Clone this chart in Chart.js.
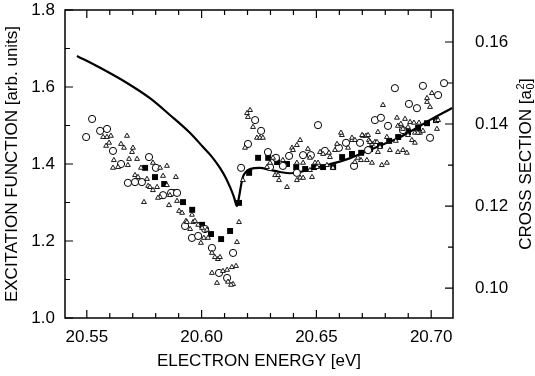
<!DOCTYPE html>
<html>
<head>
<meta charset="utf-8">
<script src="https://cdn.jsdelivr.net/npm/chart.js@4"></script>
<style>
  html, body { margin: 0; padding: 0; background: #fff; }
  .plot { width: 535px; height: 376px; }
</style>
</head>
<body>
<div class="plot"><canvas id="excitation" width="535" height="376"></canvas></div>
<script>
// electron energy [eV], excitation function [arb. units]
const openCircles = [
  [20.5497, 1.470], [20.5523, 1.517], [20.5558, 1.486], [20.5588, 1.491], [20.5614, 1.434],
  [20.5649, 1.400], [20.5679, 1.351], [20.5710, 1.353], [20.5740, 1.353], [20.5771, 1.418],
  [20.5801, 1.390], [20.5832, 1.319], [20.5867, 1.325], [20.5893, 1.325], [20.5928, 1.239],
  [20.5958, 1.208], [20.5985, 1.213], [20.6015, 1.231], [20.6045, 1.182], [20.6076, 1.117],
  [20.6111, 1.104], [20.6137, 1.169], [20.6172, 1.390], [20.6202, 1.452], [20.6233, 1.514],
  [20.6259, 1.486], [20.6289, 1.431], [20.6298, 1.392], [20.6324, 1.416], [20.6354, 1.395],
  [20.6381, 1.421], [20.6415, 1.377], [20.6442, 1.423], [20.6476, 1.423], [20.6507, 1.501],
  [20.6537, 1.434], [20.6598, 1.442], [20.6629, 1.455], [20.6664, 1.395], [20.6690, 1.455],
  [20.6725, 1.436], [20.6755, 1.514], [20.6781, 1.520], [20.6812, 1.499], [20.6842, 1.597],
  [20.6877, 1.488], [20.6903, 1.556], [20.6938, 1.545], [20.6964, 1.603], [20.6995, 1.468],
  [20.7030, 1.579], [20.7056, 1.610],
];

const filledSquares = [
  [20.5754, 1.390], [20.5797, 1.366], [20.5837, 1.348], [20.5880, 1.327], [20.5919, 1.301],
  [20.5959, 1.281], [20.6002, 1.242], [20.6041, 1.218], [20.6085, 1.205], [20.6124, 1.226],
  [20.6163, 1.299], [20.6207, 1.377], [20.6246, 1.416], [20.6290, 1.416], [20.6329, 1.405],
  [20.6372, 1.400], [20.6412, 1.392], [20.6451, 1.387], [20.6490, 1.392], [20.6529, 1.392],
  [20.6573, 1.392], [20.6612, 1.418], [20.6655, 1.426], [20.6695, 1.429], [20.6734, 1.439],
  [20.6777, 1.449], [20.6817, 1.460], [20.6856, 1.470], [20.6899, 1.483], [20.6943, 1.494],
  [20.6982, 1.506], [20.7021, 1.514],
];

const openTriangles = [
  [20.5571, 1.470], [20.5588, 1.470], [20.5605, 1.473], [20.5675, 1.473], [20.5584, 1.447],
  [20.5597, 1.455], [20.5649, 1.452], [20.5662, 1.442], [20.5701, 1.442], [20.5697, 1.431],
  [20.5618, 1.410], [20.5684, 1.413], [20.5719, 1.413], [20.5614, 1.390], [20.5636, 1.392],
  [20.5679, 1.397], [20.5788, 1.403], [20.5819, 1.390], [20.5849, 1.395], [20.5736, 1.390],
  [20.5710, 1.371], [20.5723, 1.366], [20.5762, 1.361], [20.5888, 1.366], [20.5767, 1.343],
  [20.5775, 1.340], [20.5806, 1.340], [20.5849, 1.345], [20.5819, 1.314], [20.5862, 1.319],
  [20.5749, 1.301], [20.5858, 1.293], [20.5893, 1.304], [20.5788, 1.332], [20.5832, 1.369],
  [20.5810, 1.312],
  [20.5902, 1.278], [20.5915, 1.273], [20.5932, 1.252], [20.5936, 1.249], [20.5950, 1.231],
  [20.5963, 1.249], [20.5971, 1.252], [20.5958, 1.268], [20.5985, 1.242], [20.6002, 1.234],
  [20.6023, 1.229], [20.6010, 1.208], [20.5997, 1.195], [20.6028, 1.208], [20.6045, 1.169],
  [20.6058, 1.158], [20.6071, 1.153], [20.6080, 1.158], [20.6045, 1.117], [20.6067, 1.091],
  [20.6093, 1.122], [20.6111, 1.125], [20.6132, 1.132], [20.6150, 1.135], [20.6137, 1.088],
  [20.6115, 1.094], [20.6128, 1.086], [20.6154, 1.197], [20.6163, 1.249], [20.6180, 1.358],
  [20.6211, 1.540], [20.6198, 1.532], [20.6202, 1.522], [20.6224, 1.496], [20.6241, 1.468],
  [20.6254, 1.468], [20.6267, 1.468], [20.6189, 1.442],
  [20.6285, 1.392], [20.6298, 1.403], [20.6320, 1.371], [20.6333, 1.371], [20.6337, 1.358],
  [20.6372, 1.340], [20.6311, 1.416], [20.6394, 1.442], [20.6415, 1.449], [20.6429, 1.462],
  [20.6354, 1.410], [20.6429, 1.364], [20.6415, 1.358], [20.6442, 1.364], [20.6472, 1.384],
  [20.6494, 1.403], [20.6503, 1.392], [20.6398, 1.436], [20.6415, 1.403], [20.6442, 1.403],
  [20.6472, 1.416], [20.6463, 1.439], [20.6481, 1.366],
  [20.6516, 1.431], [20.6529, 1.426], [20.6559, 1.418], [20.6581, 1.436], [20.6611, 1.475],
  [20.6638, 1.442], [20.6655, 1.462], [20.6703, 1.473], [20.6716, 1.473], [20.6729, 1.462],
  [20.6742, 1.452], [20.6755, 1.457], [20.6777, 1.444], [20.6820, 1.436], [20.6894, 1.429],
  [20.6768, 1.431], [20.6855, 1.431], [20.6938, 1.483], [20.6951, 1.481], [20.6982, 1.561],
  [20.6995, 1.548], [20.7003, 1.584], [20.6982, 1.571], [20.6790, 1.553], [20.6851, 1.520],
  [20.6886, 1.517], [20.6908, 1.509], [20.6925, 1.507], [20.6899, 1.496], [20.6947, 1.507],
  [20.6964, 1.486], [20.7025, 1.491], [20.7021, 1.512], [20.6668, 1.405], [20.6720, 1.410],
  [20.6742, 1.403], [20.6807, 1.403], [20.6785, 1.397], [20.6877, 1.436], [20.6607, 1.481],
  [20.6699, 1.475], [20.6725, 1.475], [20.6768, 1.483], [20.6733, 1.457], [20.6764, 1.457],
  [20.6846, 1.460], [20.6916, 1.462], [20.6929, 1.455], [20.6655, 1.468], [20.6668, 1.462],
  [20.6590, 1.452], [20.6555, 1.429], [20.6507, 1.403], [20.6546, 1.397], [20.6572, 1.390],
  [20.6694, 1.410], [20.6681, 1.416], [20.6807, 1.470], [20.6855, 1.499], [20.6868, 1.504],
  [20.6877, 1.491], [20.6899, 1.475], [20.6929, 1.481], [20.6942, 1.481], [20.7030, 1.514],
];

// electron energy [eV], cross section [a0^2] (right axis)
const crossSection = [
  [20.5457, 0.1566], [20.5558, 0.1537], [20.5675, 0.1500], [20.5775, 0.1463], [20.5862, 0.1422],
  [20.5950, 0.1378], [20.6006, 0.1344], [20.6045, 0.1320], [20.6080, 0.1293], [20.6106, 0.1268],
  [20.6124, 0.1246], [20.6141, 0.1222], [20.6154, 0.1200], [20.6163, 0.1222], [20.6172, 0.1251],
  [20.6180, 0.1271], [20.6193, 0.1283], [20.6211, 0.1290], [20.6254, 0.1293], [20.6298, 0.1288],
  [20.6341, 0.1283], [20.6385, 0.1280], [20.6429, 0.1283], [20.6494, 0.1293], [20.6559, 0.1302],
  [20.6638, 0.1315], [20.6712, 0.1332], [20.6785, 0.1349], [20.6864, 0.1368], [20.6929, 0.1388],
  [20.6995, 0.1410], [20.7091, 0.1439],
];

const energyTicks = [20.55, 20.56, 20.57, 20.58, 20.59, 20.60, 20.61, 20.62, 20.63, 20.64,
  20.65, 20.66, 20.67, 20.68, 20.69, 20.70];
const energyLabels = ['20.55', '20.60', '20.65', '20.70'];
const excTicks = [1.0, 1.1, 1.2, 1.3, 1.4, 1.5, 1.6, 1.7, 1.8];
const excLabels = ['1.0', '1.2', '1.4', '1.6', '1.8'];
const csTicks = [0.10, 0.11, 0.12, 0.13, 0.14, 0.15, 0.16];
const csLabels = ['0.10', '0.12', '0.14', '0.16'];

const FONT = "'Liberation Sans', Arial, Helvetica, sans-serif";
Chart.defaults.font.family = FONT;
Chart.defaults.font.size = 17;
Chart.defaults.color = '#000';

const toPoints = (pairs) => pairs.map(([x, y]) => ({ x, y }));

const pickLabel = (list, digits) => (value) => {
  const text = Number(value).toFixed(digits);
  return list.includes(text) ? text : '';
};

// keep the plot box where it is: no extra room for tick labels
const noPadding = (s) => {
  s.paddingTop = 0;
  s.paddingBottom = 0;
  s.paddingLeft = 0;
  s.paddingRight = 0;
};

// closed frame with inward ticks on all four sides
const frame = {
  id: 'frame',
  afterDraw(chart) {
    const { ctx, chartArea: a, scales } = chart;
    ctx.save();
    ctx.strokeStyle = '#000';
    ctx.lineWidth = 1.5;
    ctx.strokeRect(a.left, a.top, a.right - a.left, a.bottom - a.top);
    ctx.lineWidth = 1.2;
    ctx.beginPath();
    energyTicks.forEach((v) => {
      const p = scales.x.getPixelForValue(v);
      const len = energyLabels.includes(v.toFixed(2)) ? 8 : 5;
      ctx.moveTo(p, a.bottom); ctx.lineTo(p, a.bottom - len);
      ctx.moveTo(p, a.top); ctx.lineTo(p, a.top + len);
    });
    excTicks.forEach((v) => {
      const p = scales.y.getPixelForValue(v);
      const len = excLabels.includes(v.toFixed(1)) ? 8 : 5;
      ctx.moveTo(a.left, p); ctx.lineTo(a.left + len, p);
    });
    csTicks.forEach((v) => {
      const p = scales.y2.getPixelForValue(v);
      const len = csLabels.includes(v.toFixed(2)) ? 8 : 5;
      ctx.moveTo(a.right, p); ctx.lineTo(a.right - len, p);
    });
    ctx.stroke();

    // right axis title with a0^2
    const big = `17px ${FONT}`;
    const small = `11px ${FONT}`;
    ctx.translate(525, (a.top + a.bottom) / 2);
    ctx.rotate(-Math.PI / 2);
    ctx.fillStyle = '#000';
    ctx.textBaseline = 'alphabetic';
    ctx.textAlign = 'left';
    ctx.font = big;
    const head = 'CROSS SECTION [a';
    const w1 = ctx.measureText(head).width;
    const w3 = ctx.measureText(']').width;
    ctx.font = small;
    const w2 = ctx.measureText('2').width;
    const x0 = -(w1 + w2 + 1 + w3) / 2;
    const base = 6;
    ctx.font = big;
    ctx.fillText(head, x0, base);
    ctx.fillText(']', x0 + w1 + w2 + 1, base);
    ctx.font = small;
    ctx.fillText('2', x0 + w1 + 0.5, base - 7);
    ctx.fillText('0', x0 + w1 + 0.5, base + 3);
    ctx.restore();
  },
};

new Chart(document.getElementById('excitation'), {
  type: 'scatter',
  data: {
    datasets: [
      {
        label: 'triangles',
        data: toPoints(openTriangles),
        pointStyle: 'triangle',
        pointRadius: 2.8,
        backgroundColor: '#fff',
        borderColor: '#000',
        borderWidth: 0.9,
      },
      {
        label: 'circles',
        data: toPoints(openCircles),
        pointStyle: 'circle',
        pointRadius: 3.6,
        backgroundColor: '#fff',
        borderColor: '#000',
        borderWidth: 1,
      },
      {
        label: 'squares',
        data: toPoints(filledSquares),
        pointStyle: 'rect',
        pointRadius: 4.2,
        backgroundColor: '#000',
        borderColor: '#000',
        borderWidth: 0,
      },
      {
        type: 'line',
        label: 'cross section',
        data: toPoints(crossSection),
        yAxisID: 'y2',
        borderColor: '#000',
        borderWidth: 2.2,
        pointRadius: 0,
        cubicInterpolationMode: 'monotone',
        fill: false,
      },
    ],
  },
  options: {
    responsive: false,
    devicePixelRatio: 1,
    animation: false,
    layout: { padding: { top: 10, left: 0, right: 0, bottom: 0 } },
    plugins: { legend: { display: false }, tooltip: { enabled: false } },
    scales: {
      x: {
        type: 'linear',
        position: 'bottom',
        min: 20.5405,
        max: 20.7095,
        afterBuildTicks: (s) => { s.ticks = energyTicks.map((value) => ({ value })); },
        afterFit: (s) => { s.height = 58; noPadding(s); },
        grid: { display: false, drawTicks: false },
        border: { display: false },
        ticks: { padding: 9, maxRotation: 0, autoSkip: false, callback: pickLabel(energyLabels, 2) },
        title: { display: true, text: 'ELECTRON ENERGY [eV]', padding: { top: 0, bottom: 4 } },
      },
      y: {
        type: 'linear',
        position: 'left',
        min: 1.0,
        max: 1.8,
        afterBuildTicks: (s) => { s.ticks = excTicks.map((value) => ({ value })); },
        afterFit: (s) => { s.width = 65; noPadding(s); },
        grid: { display: false, drawTicks: false },
        border: { display: false },
        ticks: { padding: 10, autoSkip: false, callback: pickLabel(excLabels, 1) },
        title: { display: true, text: 'EXCITATION FUNCTION [arb. units]', padding: { top: 2, bottom: 0 } },
      },
      y2: {
        type: 'linear',
        position: 'right',
        min: 0.0927,
        max: 0.1678,
        afterBuildTicks: (s) => { s.ticks = csTicks.map((value) => ({ value })); },
        afterFit: (s) => { s.width = 82; noPadding(s); },
        grid: { display: false, drawTicks: false },
        border: { display: false },
        ticks: { padding: 22, autoSkip: false, callback: pickLabel(csLabels, 2) },
      },
    },
  },
  plugins: [frame],
});
</script>
</body>
</html>
